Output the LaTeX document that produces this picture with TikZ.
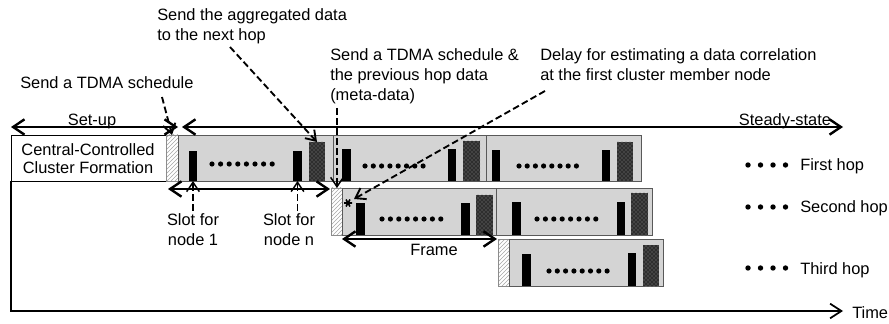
\documentclass[tikz,border=0pt]{standalone}
\usepackage{fontspec}
\setmainfont{Liberation Sans}
\usetikzlibrary{fit,patterns,arrows.meta,calc}
\definecolor{framegray}{RGB}{212,212,212}
\newcommand\dotrow[3]{\foreach \i in {0,...,7}{\fill ({#1+\i*#3},#2) circle[radius=2.6];}}
\begin{document}
\begin{tikzpicture}[x=0.75pt,y=-0.75pt,
  every node/.style={font=\fontsize{12.3}{15}\selectfont},
  rect/.style={inner sep=0pt, outer sep=0pt},
  framebox/.style={rect, fill=framegray, draw=black!65, line width=0.7pt},
  hatchbox/.style={rect, fill=white, pattern=north east lines, pattern color=black!35, draw=black!45, line width=0.6pt},
  barbox/.style={rect, fill=black},
  darkbox/.style={rect, fill=black!82, postaction={pattern=crosshatch dots, pattern color=black!45}},
  ccbox/.style={rect, draw=black, line width=0.7pt, fill=white},
  lbl/.style={inner sep=0pt, anchor=base west},
  clbl/.style={inner sep=0pt, anchor=base},
  dbl/.style={line width=1.8pt, {Straight Barb[length=8.5pt,width=11.5pt]}-{Straight Barb[length=8.5pt,width=11.5pt]}},
  sgl/.style={line width=1.3pt, -{Straight Barb[length=8.5pt,width=11pt]}},
  dsh/.style={line width=1.4pt, dash pattern=on 5pt off 2.5pt, -{Straight Barb[length=7pt,width=9.5pt]}},
]
\useasboundingbox (0,0) rectangle (889,324);

% cluster formation box
\node[ccbox, fit={(11,135)(166,181)}] (cc) {};
\node[clbl] (cc1) at (88,156) {Central-Controlled};
\node[clbl] (cc2) at (88,174) {Cluster Formation};

% first hop
\node[hatchbox, fit={(166,135)(178,181)}] (h0) {};
\node[framebox, fit={(178,135)(333,181)}] (f11) {};
\node[framebox, fit={(333,135)(486,181)}] (f12) {};
\node[framebox, fit={(486,135)(641,181)}] (f13) {};
\node[barbox, fit={(189,151)(197,181)}] (b11a) {};
\node[barbox, fit={(293,151)(302,181)}] (b11n) {};
\node[darkbox, fit={(309,142)(325,181)}] (d11) {};
\node[barbox, fit={(342,149)(351,181)}] (b12a) {};
\node[barbox, fit={(448,149)(456,181)}] (b12n) {};
\node[darkbox, fit={(463,141)(480,181)}] (d12) {};
\node[barbox, fit={(492,150)(500,181)}] (b13a) {};
\node[barbox, fit={(602,150)(610,181)}] (b13n) {};
\node[darkbox, fit={(617,142)(633,181)}] (d13) {};
\dotrow{212}{164}{8.6}
\dotrow{365}{166}{8.3}
\dotrow{519}{166}{8.2}

% second hop
\node[hatchbox, fit={(331,188)(342,235)}] (h1) {};
\node[framebox, fit={(342,188)(496,235)}] (f21) {};
\node[framebox, fit={(496,188)(652,235)}] (f22) {};
\node[barbox, fit={(356,203)(365,235)}] (b21a) {};
\node[barbox, fit={(461,203)(470,235)}] (b21n) {};
\node[darkbox, fit={(476,195)(493,235)}] (d21) {};
\node[barbox, fit={(512,202)(521,235)}] (b22a) {};
\node[barbox, fit={(617,202)(625,235)}] (b22n) {};
\node[darkbox, fit={(631,193)(648,235)}] (d22) {};
\dotrow{382}{219}{8.4}
\dotrow{537}{219}{8.4}

% third hop
\node[hatchbox, fit={(498,239)(509,286)}] (h2) {};
\node[framebox, fit={(509,239)(663,286)}] (f31) {};
\node[barbox, fit={(522,254)(531,286)}] (b31a) {};
\node[barbox, fit={(628,253)(636,286)}] (b31n) {};
\node[darkbox, fit={(643,245)(659,286)}] (d31) {};
\dotrow{549}{271}{8.3}

% phase arrows
\coordinate (su1) at (11,127);
\coordinate (su2) at (178,127);
\coordinate (ss1) at (182,127);
\coordinate (ss2) at (843,127);
\draw[dbl] (su1) -- (su2);
\draw[dbl] (ss1) -- (ss2);
\node[clbl] (setup) at (92,126) {Set-up};
\node[clbl] (steady) at (785,126) {Steady-state};

% time axis
\node[lbl] (time) at (852,318) {Time};
\coordinate (tend) at (843,311);
\draw[sgl] (cc.south west) |- (tend);

% slot and frame arrows
\coordinate (sl1) at (168,189);
\coordinate (sl2) at (330,189);
\draw[dbl] (sl1) -- (sl2);
\coordinate (fr1) at (342,239);
\coordinate (fr2) at (497,239);
\draw[dbl] (fr1) -- (fr2);
\node[clbl] (frame) at (434,255) {Frame};

\node[clbl] (s1a) at (193,225) {Slot for};
\node[clbl] (s1b) at (193,245) {node 1};
\node[clbl] (sna) at (289,225) {Slot for};
\node[clbl] (snb) at (289,245) {node n};
\draw[dsh, line width=1.1pt] ($(b11a.south |- s1a.north)+(0,-2)$) -- (b11a.south);
\draw[dsh, line width=1.1pt] ($(b11n.south |- sna.north)+(0,-2)$) -- (b11n.south);

% annotations
\node[lbl] (sched) at (20,89) {Send a TDMA schedule};
\node[lbl] (agg1) at (157,21) {Send the aggregated data};
\node[lbl] (agg2) at (157,41) {to the next hop};
\node[lbl] (meta1) at (330,61) {Send a TDMA schedule \&};
\node[lbl] (meta2) at (330,81) {the previous hop data};
\node[lbl] (meta3) at (330,101) {(meta-data)};
\node[lbl] (del1) at (540,61) {Delay for estimating a data correlation};
\node[lbl] (del2) at (540,81) {at the first cluster member node};

\coordinate (a1s) at (162,97);
\draw[dsh] (a1s) -- (h0.north);
\coordinate (a2s) at (230,47);
\draw[dsh] (a2s) -- (d11.north);
\coordinate (a3s) at (337,108);
\draw[dsh, line width=1.1pt] (a3s) -- (h1.north -| a3s);
\coordinate (a4s) at (545,91);
\coordinate (a4e) at (354,199);
\coordinate (star) at (348,203);
\draw[dsh] (a4s) -- (a4e);
\draw[line width=1.2pt] ($(star)+(-4,0)$) -- ($(star)+(4,0)$)
  ($(star)+(-2,-3.5)$) -- ($(star)+(2,3.5)$)
  ($(star)+(2,-3.5)$) -- ($(star)+(-2,3.5)$);

% legend
\foreach \yy/\txt in {165/First hop, 207/Second hop, 268/Third hop}{
  \foreach \k in {0,...,3}{\fill ({748+\k*12.5},\yy) circle[radius=2.7];}
  \node[lbl] at (800,\yy+6) {\txt};
}
\end{tikzpicture}
\end{document}
